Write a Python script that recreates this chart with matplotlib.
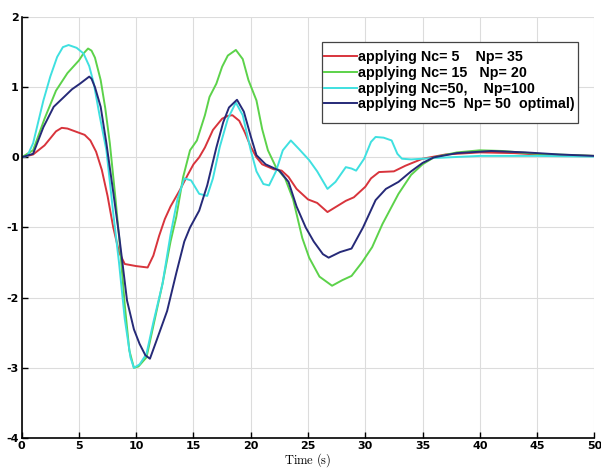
import numpy as np
import matplotlib
matplotlib.use("Agg")
import matplotlib.pyplot as plt
from matplotlib.patches import Rectangle

plt.rcParams["axes.unicode_minus"] = False
plt.rcParams["mathtext.fontset"] = "cm"

# values
t_red = [0, 1, 2, 3, 3.5, 4, 4.5, 5, 5.5, 6, 6.5, 7, 7.5, 8, 8.5, 9, 10, 11, 11.5,
         12, 12.5, 13, 13.8, 14.5, 15, 15.5, 16, 16.7, 17.5, 18, 18.4, 19, 19.5,
         20, 20.5, 21, 22, 22.7, 23.3, 24, 25, 25.8, 26.7, 27.5, 28.3, 29, 30,
         30.5, 31.2, 32.5, 33.5, 35, 37, 40, 43, 46, 50]
y_red = [0, 0.04, 0.17, 0.37, 0.42, 0.41, 0.38, 0.35, 0.32, 0.24, 0.08, -0.18,
         -0.55, -1.0, -1.35, -1.52, -1.55, -1.57, -1.4, -1.12, -0.88, -0.7, -0.47,
         -0.25, -0.1, 0.0, 0.14, 0.39, 0.55, 0.59, 0.6, 0.52, 0.35, 0.15, 0.0,
         -0.1, -0.17, -0.19, -0.28, -0.45, -0.6, -0.65, -0.78, -0.7, -0.62, -0.57,
         -0.42, -0.3, -0.21, -0.2, -0.12, -0.02, 0.04, 0.07, 0.06, 0.03, 0.02]

t_green = [0, 1, 2, 3, 4, 5, 5.4, 5.8, 6.1, 6.4, 6.9, 7.3, 7.7, 8.2, 8.6, 9.0,
           9.4, 9.8, 10.2, 10.9, 11.5, 12.3, 13, 13.5, 14.1, 14.7, 15.3, 16, 16.4,
           17, 17.5, 18, 18.7, 19.3, 19.8, 20.5, 21, 21.5, 22.2, 23, 23.7, 24.5,
           25.1, 26, 27.1, 28, 28.8, 29.7, 30.6, 31.5, 32.9, 34, 35, 36, 38, 40,
           42, 45, 50]
y_green = [0, 0.1, 0.55, 0.95, 1.2, 1.38, 1.48, 1.55, 1.52, 1.42, 1.1, 0.7, 0.2,
           -0.6, -1.3, -2.1, -2.75, -3.0, -2.98, -2.85, -2.4, -1.8, -1.2, -0.85,
           -0.28, 0.1, 0.24, 0.6, 0.86, 1.05, 1.29, 1.45, 1.53, 1.4, 1.1, 0.81,
           0.4, 0.1, -0.14, -0.3, -0.6, -1.15, -1.43, -1.7, -1.83, -1.75, -1.69,
           -1.5, -1.28, -0.95, -0.52, -0.25, -0.1, 0.0, 0.07, 0.1, 0.09, 0.05, 0.02]

t_cyan = [0, 0.5, 1, 1.9, 2.5, 3.1, 3.6, 4.1, 4.8, 5.4, 5.9, 6.3, 6.8, 7.4, 8.0,
          8.5, 9.0, 9.5, 9.8, 10.3, 10.9, 11.5, 12.3, 13, 13.6, 14.2, 14.8, 15.5,
          16.2, 16.7, 17.3, 18, 18.7, 19.3, 20, 20.5, 21.1, 21.6, 22.2, 22.8, 23.5,
          24.2, 25.1, 25.8, 26.7, 27.4, 28.3, 28.8, 29.2, 29.9, 30.5, 30.9, 31.6,
          32.3, 32.8, 33.2, 34, 36, 40, 45, 50]
y_cyan = [0, 0.02, 0.2, 0.81, 1.15, 1.43, 1.57, 1.6, 1.56, 1.48, 1.3, 1.05, 0.6,
          0.1, -0.8, -1.5, -2.3, -2.85, -3.0, -2.95, -2.8, -2.35, -1.8, -1.1, -0.6,
          -0.3, -0.33, -0.52, -0.55, -0.3, 0.15, 0.55, 0.78, 0.6, 0.1, -0.2, -0.38,
          -0.4, -0.2, 0.1, 0.24, 0.12, -0.04, -0.2, -0.45, -0.35, -0.14, -0.16,
          -0.19, -0.02, 0.22, 0.29, 0.28, 0.24, 0.05, -0.02, -0.03, -0.01, 0.02,
          0.02, 0.01]

t_blue = [0, 1, 1.9, 2.8, 3.7, 4.4, 5.1, 5.9, 6.1, 6.4, 6.9, 7.4, 8.0, 8.5, 9.2,
          9.8, 10.3, 10.8, 11.2, 11.8, 12.7, 13.5, 14.2, 14.7, 15.5, 16.2, 17,
          17.6, 18.1, 18.8, 19.4, 20, 20.5, 21.3, 22.5, 23.3, 24, 24.8, 25.5, 26.3,
          26.8, 27.8, 28.8, 29.8, 30.9, 31.8, 32.9, 34, 35, 36, 38, 41, 44, 47, 50]
y_blue = [0, 0.05, 0.43, 0.72, 0.86, 0.97, 1.05, 1.15, 1.12, 1.0, 0.72, 0.2, -0.5,
          -1.1, -2.04, -2.45, -2.66, -2.82, -2.87, -2.6, -2.19, -1.65, -1.2, -1.0,
          -0.76, -0.4, 0.14, 0.5, 0.71, 0.82, 0.65, 0.3, 0.03, -0.1, -0.19, -0.35,
          -0.7, -1.0, -1.2, -1.38, -1.43, -1.35, -1.3, -1.0, -0.61, -0.45, -0.35,
          -0.2, -0.08, 0.0, 0.06, 0.09, 0.07, 0.04, 0.02]

labels = ["applying Nc= 5    Np= 35",
          "applying Nc= 15   Np= 20",
          "applying Nc=50,    Np=100",
          "applying Nc=5  Np= 50  optimal)"]
colors = ["#d8343c", "#5cd24a", "#3fe0e0", "#262a78"]

fig = plt.figure(figsize=(6.01, 4.71), dpi=100)
ax = fig.add_axes([0.036, 0.07, 0.953, 0.894])

series = [(t_red, y_red), (t_green, y_green), (t_cyan, y_cyan), (t_blue, y_blue)]
for (t, y), c, lab in zip(series, colors, labels):
    ax.plot(t, y, color=c, lw=1.4, label=lab)

ax.set_xlim(0, 50)
ax.set_ylim(-4, 2)
ax.set_xticks(np.arange(0, 51, 5))
ax.set_yticks(np.arange(-4, 3, 1))
ax.grid(True, color="#dcdcdc", lw=0.8)
ax.set_axisbelow(True)
for s in ["top", "right"]:
    ax.spines[s].set_visible(False)
for s in ["left", "bottom"]:
    ax.spines[s].set_linewidth(1.2)
ax.tick_params(direction="in", length=4, width=1.0, labelsize=8, pad=2)
for lab in ax.get_xticklabels() + ax.get_yticklabels():
    lab.set_fontweight("bold")
ax.set_xlabel(r"$\mathrm{Time\ (s)}$", fontsize=9, labelpad=0)

# legend box drawn separately so its padding matches the reference
box = Rectangle((0.524, 0.748), 0.448, 0.193, transform=ax.transAxes,
                facecolor="white", edgecolor="#444444", lw=0.9, zorder=4)
ax.add_patch(box)
leg = ax.legend(loc="upper left", bbox_to_anchor=(0.528, 0.922),
                prop={"family": "Liberation Sans", "weight": "bold", "size": 10.3},
                handlelength=2.3, handletextpad=0.05, labelspacing=0.13,
                borderpad=0, borderaxespad=0, frameon=False)
leg.set_zorder(5)

fig.savefig("out.png", dpi=100)
